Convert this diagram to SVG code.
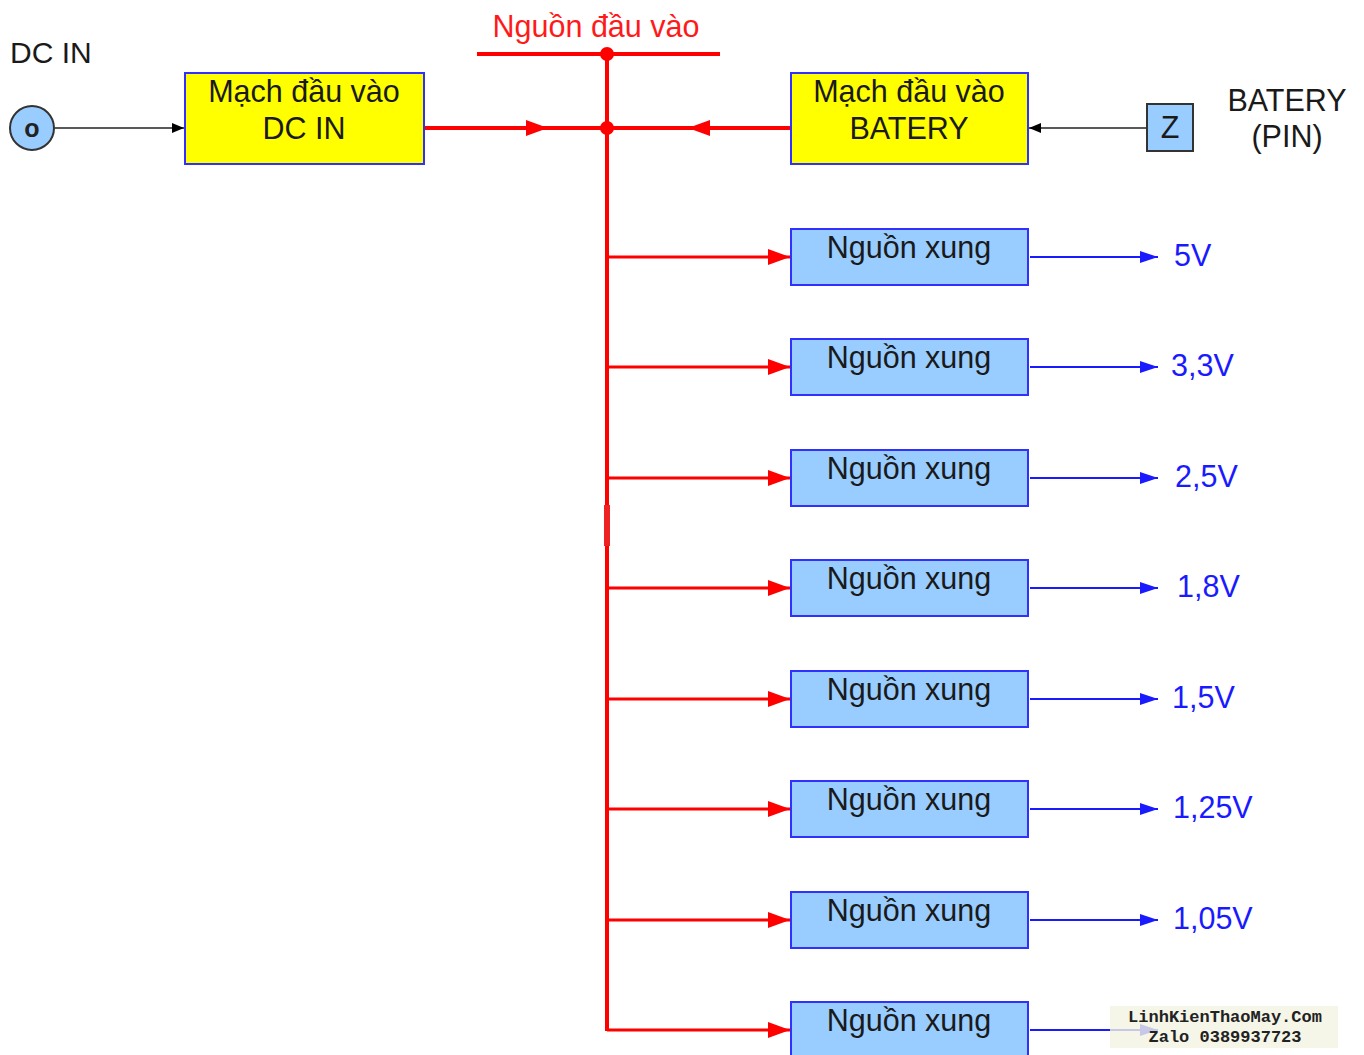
<svg xmlns="http://www.w3.org/2000/svg" width="1364" height="1055" viewBox="0 0 1364 1055">
<style>
  text { font-family: "Liberation Sans", Arial, sans-serif; }
  .lbl { font-size: 30.5px; fill: #1a1a1a; text-anchor: middle; }
  .yel { fill: #ffff00; stroke: #3030ff; stroke-width: 2; }
  .blu { fill: #99ccff; stroke: #3030ff; stroke-width: 2; }
  .red { stroke: #ff0000; fill: none; }
  .bl { stroke: #1a1aff; stroke-width: 2; fill: none; }
  .out { font-size: 30.5px; fill: #1a1aff; }
  .wm { font-family: "Liberation Mono", "Courier New", monospace; font-size: 17px; font-weight: bold; fill: #222; text-anchor: middle; }
</style>
<defs>
  <marker id="ablack" markerWidth="12" markerHeight="10" refX="12" refY="5" orient="auto" markerUnits="userSpaceOnUse">
    <path d="M0,0 L12,5 L0,10 Z" fill="#000"/>
  </marker>
  <marker id="ared" markerWidth="22" markerHeight="16" refX="22" refY="8" orient="auto" markerUnits="userSpaceOnUse">
    <path d="M0,0 L22,8 L0,16 Z" fill="#ff0000"/>
  </marker>
  <marker id="ablue" markerWidth="18" markerHeight="12" refX="18" refY="6" orient="auto" markerUnits="userSpaceOnUse">
    <path d="M0,0 L18,6 L0,12 Z" fill="#1a1aff"/>
  </marker>
</defs>

<g id="connectors">
  <line x1="55" y1="128" x2="184" y2="128" stroke="#222" stroke-width="1.5" marker-end="url(#ablack)"/>
  <line x1="1147" y1="128" x2="1029" y2="128" stroke="#222" stroke-width="1.5" marker-end="url(#ablack)"/>
  <line class="red" x1="477" y1="54" x2="720" y2="54" stroke-width="4"/>
  <line class="red" x1="424" y1="128" x2="548" y2="128" stroke-width="4" marker-end="url(#ared)"/>
  <line class="red" x1="548" y1="128" x2="607" y2="128" stroke-width="4"/>
  <line class="red" x1="791" y1="128" x2="688" y2="128" stroke-width="4" marker-end="url(#ared)"/>
  <line class="red" x1="688" y1="128" x2="607" y2="128" stroke-width="4"/>
  <line class="red" x1="607" y1="54" x2="607" y2="1031" stroke-width="4"/>
  <rect x="604" y="505" width="6" height="41" fill="#ee2222"/>
  <circle cx="607" cy="54" r="7" fill="#ff0000"/>
  <circle cx="607" cy="128" r="7" fill="#ff0000"/>
  <g stroke-width="3">
    <line class="red" x1="607" y1="257" x2="790" y2="257" marker-end="url(#ared)"/>
    <line class="red" x1="607" y1="367" x2="790" y2="367" marker-end="url(#ared)"/>
    <line class="red" x1="607" y1="478" x2="790" y2="478" marker-end="url(#ared)"/>
    <line class="red" x1="607" y1="588" x2="790" y2="588" marker-end="url(#ared)"/>
    <line class="red" x1="607" y1="699" x2="790" y2="699" marker-end="url(#ared)"/>
    <line class="red" x1="607" y1="809" x2="790" y2="809" marker-end="url(#ared)"/>
    <line class="red" x1="607" y1="920" x2="790" y2="920" marker-end="url(#ared)"/>
    <line class="red" x1="607" y1="1030" x2="790" y2="1030" marker-end="url(#ared)"/>
  </g>
  <line class="bl" x1="1030" y1="257" x2="1158" y2="257" marker-end="url(#ablue)"/>
  <line class="bl" x1="1030" y1="367" x2="1158" y2="367" marker-end="url(#ablue)"/>
  <line class="bl" x1="1030" y1="478" x2="1158" y2="478" marker-end="url(#ablue)"/>
  <line class="bl" x1="1030" y1="588" x2="1158" y2="588" marker-end="url(#ablue)"/>
  <line class="bl" x1="1030" y1="699" x2="1158" y2="699" marker-end="url(#ablue)"/>
  <line class="bl" x1="1030" y1="809" x2="1158" y2="809" marker-end="url(#ablue)"/>
  <line class="bl" x1="1030" y1="920" x2="1158" y2="920" marker-end="url(#ablue)"/>
  <line class="bl" x1="1030" y1="1030" x2="1158" y2="1030" marker-end="url(#ablue)"/>
</g>

<g id="label-dcin"><text x="10" y="63" font-size="30" fill="#1a1a1a">DC IN</text></g>
<g id="label-nguon-dau-vao"><text x="596" y="37" font-size="30.5" fill="#ff1a1a" text-anchor="middle">Nguồn đầu vào</text></g>
<g id="label-batery"><text class="lbl" x="1287" y="111">BATERY</text><text class="lbl" x="1287" y="147">(PIN)</text></g>

<g id="node-dcin-jack">
  <circle cx="32" cy="128" r="22" fill="#99ccff" stroke="#333" stroke-width="2"/>
  <text x="32" y="137" font-size="25" font-weight="bold" fill="#222" text-anchor="middle">o</text>
</g>
<g id="node-mach-dcin">
  <rect class="yel" x="185" y="73" width="239" height="91"/>
  <text class="lbl" x="304" y="102">Mạch đầu vào</text>
  <text class="lbl" x="304" y="139">DC IN</text>
</g>
<g id="node-mach-batery">
  <rect class="yel" x="791" y="73" width="237" height="91"/>
  <text class="lbl" x="909" y="102">Mạch đầu vào</text>
  <text class="lbl" x="909" y="139">BATERY</text>
</g>
<g id="node-z">
  <rect x="1147" y="104" width="46" height="47" fill="#99ccff" stroke="#333" stroke-width="2"/>
  <text class="lbl" x="1170" y="138">Z</text>
</g>

<g id="node-x1"><rect class="blu" x="791" y="229" width="237" height="56"/><text class="lbl" x="909" y="258">Nguồn xung</text></g>
<g id="node-x2"><rect class="blu" x="791" y="339" width="237" height="56"/><text class="lbl" x="909" y="368">Nguồn xung</text></g>
<g id="node-x3"><rect class="blu" x="791" y="450" width="237" height="56"/><text class="lbl" x="909" y="479">Nguồn xung</text></g>
<g id="node-x4"><rect class="blu" x="791" y="560" width="237" height="56"/><text class="lbl" x="909" y="589">Nguồn xung</text></g>
<g id="node-x5"><rect class="blu" x="791" y="671" width="237" height="56"/><text class="lbl" x="909" y="700">Nguồn xung</text></g>
<g id="node-x6"><rect class="blu" x="791" y="781" width="237" height="56"/><text class="lbl" x="909" y="810">Nguồn xung</text></g>
<g id="node-x7"><rect class="blu" x="791" y="892" width="237" height="56"/><text class="lbl" x="909" y="921">Nguồn xung</text></g>
<g id="node-x8"><rect class="blu" x="791" y="1002" width="237" height="56"/><text class="lbl" x="909" y="1031">Nguồn xung</text></g>

<g id="outputs">
  <text class="out" x="1174" y="266">5V</text>
  <text class="out" x="1171" y="376">3,3V</text>
  <text class="out" x="1175" y="487">2,5V</text>
  <text class="out" x="1177" y="597">1,8V</text>
  <text class="out" x="1172" y="708">1,5V</text>
  <text class="out" x="1173" y="818">1,25V</text>
  <text class="out" x="1173" y="929">1,05V</text>
</g>

<g id="watermark">
  <rect x="1110" y="1006" width="228" height="42" fill="#f2f2e2" opacity="0.8"/>
  <text class="wm" x="1225" y="1022">LinhKienThaoMay.Com</text>
  <text class="wm" x="1225" y="1042">Zalo 0389937723</text>
</g>
</svg>
